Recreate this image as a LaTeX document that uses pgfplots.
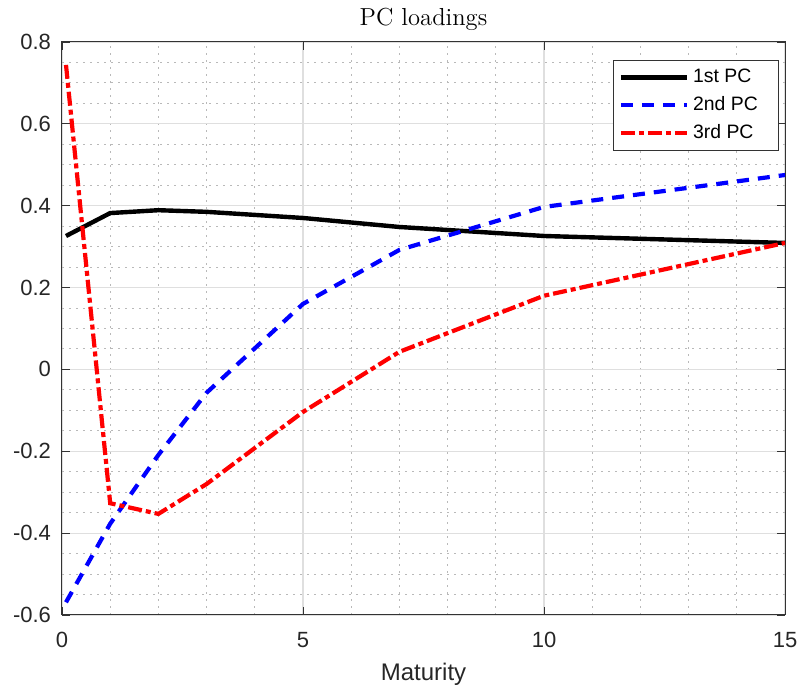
\documentclass[border=0pt]{standalone}
\usepackage{fontspec}
\setsansfont{Liberation Sans}
\usepackage{pgfplots}
\pgfplotsset{compat=1.18}

\begin{document}
\begin{tikzpicture}
\begin{axis}[
  scale only axis,
  width=361.5pt, height=286.5pt,
  xmin=0, xmax=15, ymin=-0.6, ymax=0.8,
  xtick={0,5,10,15}, xticklabels={0,5,10,15},
  ytick={-0.6,-0.4,-0.2,0,0.2,0.4,0.6,0.8},
  yticklabels={-0.6,-0.4,-0.2,0,0.2,0.4,0.6,0.8},
  minor x tick num=4, minor y tick num=3,
  grid=both,
  major grid style={gray!25, line width=0.6pt},
  minor grid style={gray!55, dash pattern=on 0.9pt off 2.6pt, line width=0.5pt},
  tick align=inside, major tick length=4pt, minor tick length=0pt,
  tick style={black!80, line width=0.4pt},
  axis line style={black!80, line width=0.5pt},
  tick label style={font=\sffamily\fontsize{11}{13}\selectfont, text=black!85},
  xticklabel style={yshift=-5pt},
  yticklabel style={xshift=-2pt},
  xlabel={Maturity},
  xlabel style={font=\sffamily\fontsize{12}{14}\selectfont, text=black!85, yshift=-1pt},
  title={PC loadings},
  title style={font=\fontsize{12.3}{15}\selectfont, yshift=-4pt},
  legend style={font=\sffamily\fontsize{9.7}{11}\selectfont, at={(0.992,0.969)},
    anchor=north east, draw=black!80, line width=0.4pt, fill=white,
    row sep=1.4pt, inner sep=2.5pt},
  legend cell align=left,
  legend image code/.code={\draw[#1] (0cm,0cm) -- (33pt,0cm);},
]
\addplot[black, line width=2.2pt] coordinates {
  (0.083,0.326) (1,0.382) (2,0.389) (3,0.385) (5,0.370) (7,0.348) (10,0.326) (15,0.309) };
\addplot[blue, line width=2.1pt, dash pattern=on 6pt off 4.5pt] coordinates {
  (0.083,-0.569) (1,-0.377) (2,-0.209) (3,-0.057) (5,0.160) (7,0.292) (10,0.397) (15,0.475) };
\addplot[red, line width=2.1pt, dash pattern=on 7pt off 2pt on 2.5pt off 2pt] coordinates {
  (0.083,0.744) (1,-0.327) (2,-0.353) (3,-0.280) (5,-0.104) (7,0.043) (10,0.180) (15,0.309) };
\legend{1st PC\kern6pt\mbox{}, 2nd PC\kern6pt\mbox{}, 3rd PC\kern6pt\mbox{}}
\end{axis}
\pgfresetboundingbox
\path ([shift={(-31pt,-37.5pt)}]current axis.south west) rectangle ([shift={(9pt,21pt)}]current axis.north east);
\end{tikzpicture}
\end{document}
